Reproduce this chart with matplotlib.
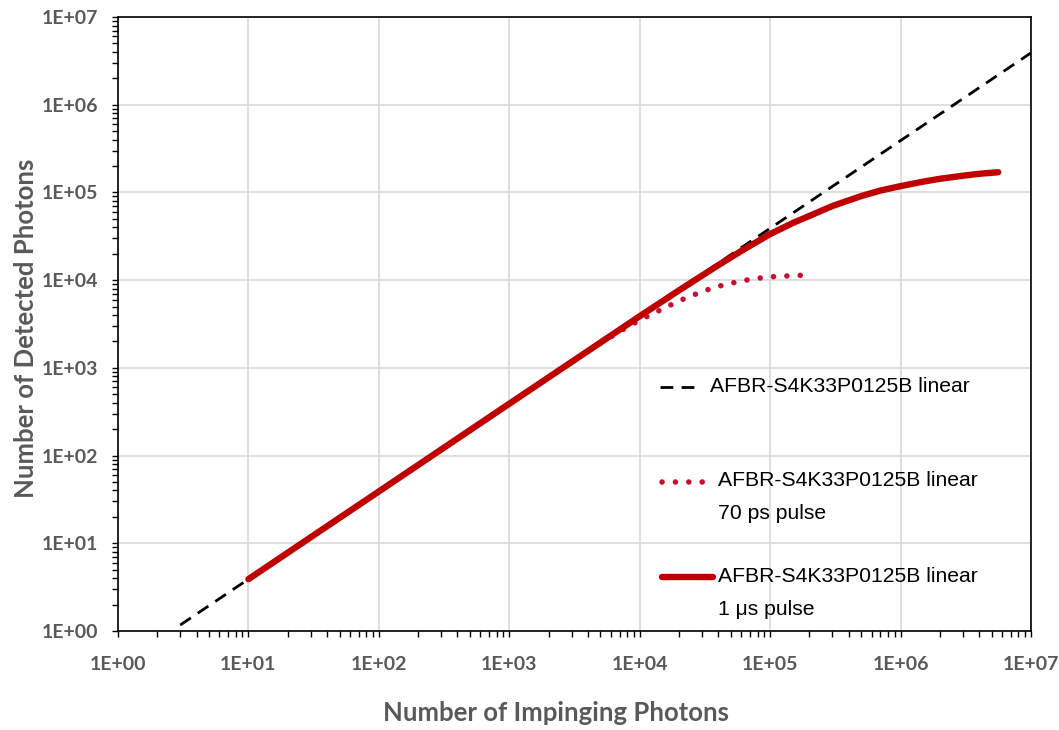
import matplotlib
matplotlib.use("Agg")
import matplotlib.pyplot as plt
from matplotlib.ticker import LogLocator, FixedLocator

# Lineare Referenz (gestrichelt)
lin_x = [3.0, 1.0e7]
lin_y = [1.17, 3.9e6]

# 70 ps Puls (gepunktet)
ps_x = [5e3, 7e3, 1e4, 1.5e4, 2e4, 3e4, 4e4, 6e4, 8e4, 1e5, 1.4e5, 1.85e5]
ps_y = [1900, 2600, 3500, 4700, 5800, 7400, 8500, 9800, 10500, 10900, 11200, 11400]

# 1 us Puls (durchgezogen)
us_x = [1e1, 1e2, 1e3, 1e4, 2e4, 4e4, 6e4, 1e5, 1.5e5, 2e5, 3e5, 5e5, 7e5,
        1e6, 1.5e6, 2e6, 3e6, 4e6, 5.6e6]
us_y = [3.9, 39, 390, 3880, 7650, 14800, 21500, 33500, 45000, 54000, 70000,
        91000, 105000, 118000, 133000, 143000, 155000, 163000, 170000]

decades = [1e0, 1e1, 1e2, 1e3, 1e4, 1e5, 1e6, 1e7]
dec_labels = ["1E+00", "1E+01", "1E+02", "1E+03", "1E+04", "1E+05", "1E+06", "1E+07"]

leg_labels = ["AFBR-S4K33P0125B linear",
              "AFBR-S4K33P0125B linear\n70 ps pulse",
              "AFBR-S4K33P0125B linear\n1 \u03bcs pulse"]

red = "#C00000"
dot_red = "#C8102E"
gray = "#595959"

fig = plt.figure(figsize=(10.59, 7.30), dpi=100)
W, H = 1059, 730
ax = fig.add_axes([118 / W, 1 - 631 / H, (1031 - 118) / W, (631 - 17) / H])

dash = dict(color="black", lw=2.0, dashes=(4.6, 3.0))
dots = dict(color=dot_red, lw=4.0, linestyle=(0, (0.01, 2.4)), dash_capstyle="round")
solid = dict(color=red, lw=4.6, solid_capstyle="round")

ax.plot(lin_x, lin_y, zorder=3, **dash)
ax.plot(ps_x, ps_y, zorder=4, **dots)
ax.plot(us_x, us_y, zorder=5, **solid)

ax.set_xscale("log")
ax.set_yscale("log")
ax.set_xlim(1, 1e7)
ax.set_ylim(1, 1e7)

ax.xaxis.set_major_locator(FixedLocator(decades))
ax.yaxis.set_major_locator(FixedLocator(decades))
ax.xaxis.set_minor_locator(LogLocator(base=10, subs=range(2, 10), numticks=20))
ax.yaxis.set_minor_locator(LogLocator(base=10, subs=range(2, 10), numticks=20))
ax.set_xticklabels(dec_labels)
ax.set_yticklabels(dec_labels)

ax.grid(True, which="major", color="#D9D9D9", lw=1.2, zorder=0)
ax.set_axisbelow(True)
ax.tick_params(which="both", direction="out", length=4, width=1, color="black")
ax.tick_params(axis="x", pad=14)
ax.tick_params(axis="y", pad=10)
for sp in ax.spines.values():
    sp.set_linewidth(1.2)

for lab in ax.get_xticklabels() + ax.get_yticklabels():
    lab.set_fontfamily("Lato")
    lab.set_fontweight("bold")
    lab.set_fontsize(14)
    lab.set_color(gray)

fig.text(556 / W, 1 - 713 / H, "Number of Impinging Photons",
         ha="center", va="center", fontsize=18.5, fontweight="bold",
         family="Lato", color=gray)
fig.text(26 / W, 1 - 328 / H, "Number of Detected Photons", rotation=90,
         ha="center", va="center", fontsize=18.5, fontweight="bold",
         family="Lato", color=gray)

# Legende (frei gezeichnet, ohne Rahmen)
tr = fig.transFigure
txt = dict(ha="left", family="Liberation Sans", fontsize=15.2, color="black",
           linespacing=1.95)
ax.add_line(plt.Line2D([660 / W, 702 / W], [1 - 387 / H] * 2, transform=tr, **dash))
fig.text(710 / W, 1 - 387 / H, leg_labels[0], va="center", **txt)
ax.add_line(plt.Line2D([662 / W, 705 / W], [1 - 482 / H] * 2, transform=tr, **dots))
fig.text(718 / W, 1 - 471 / H, leg_labels[1], va="top", **txt)
ax.add_line(plt.Line2D([662 / W, 713 / W], [1 - 577 / H] * 2, transform=tr, **solid))
fig.text(718 / W, 1 - 567 / H, leg_labels[2], va="top", **txt)

fig.savefig("out.png", dpi=100)
